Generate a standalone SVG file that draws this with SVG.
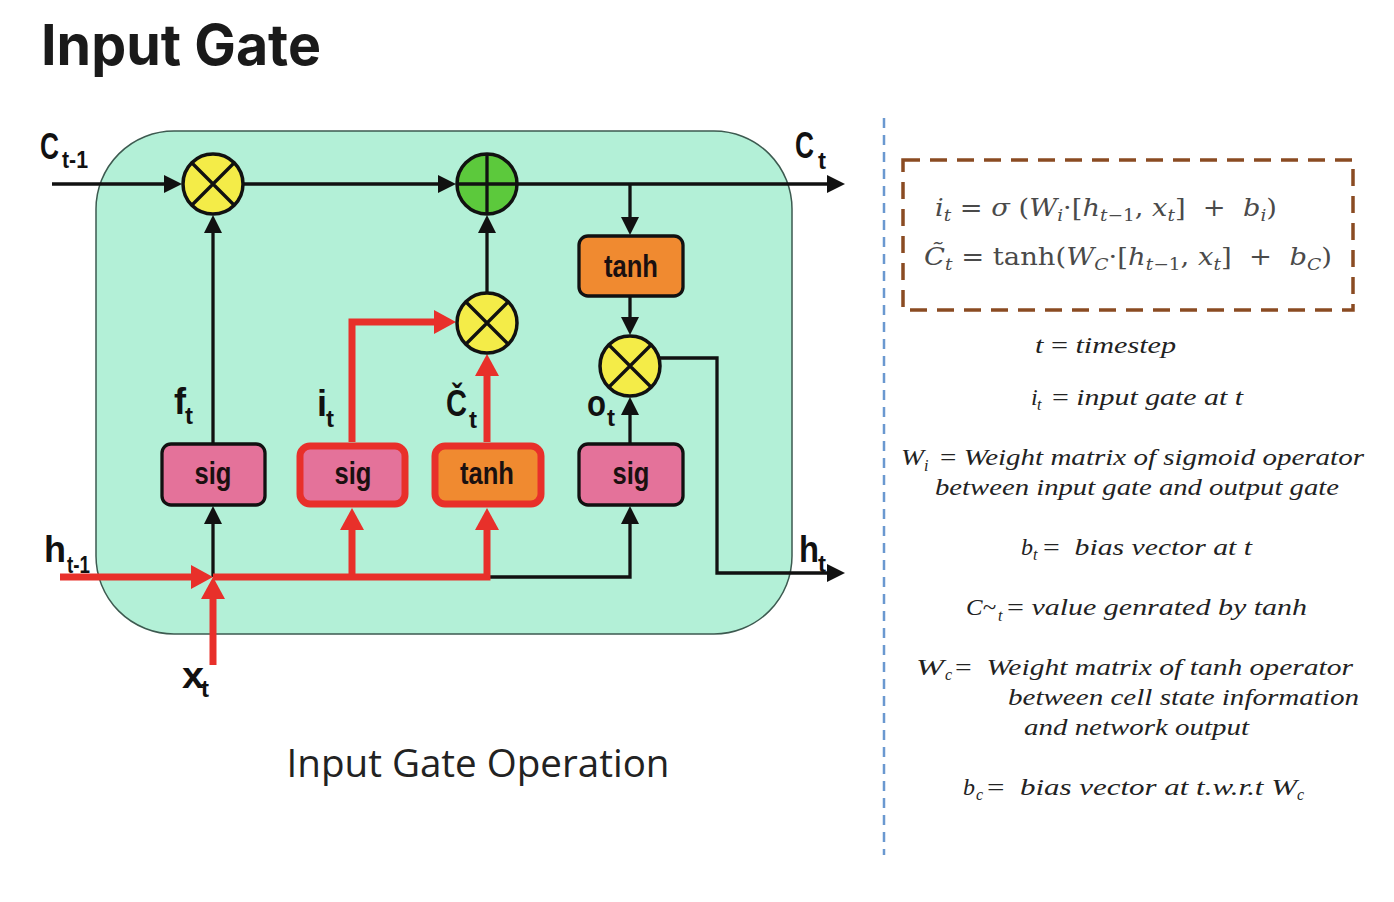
<svg xmlns="http://www.w3.org/2000/svg" width="1394" height="902" viewBox="0 0 1394 902">
<style>
.bk{fill:none;stroke:#111;stroke-width:3.3;stroke-linejoin:miter}
.rd{fill:none;stroke:#e8302a;stroke-width:7;stroke-linejoin:miter}
.mul{fill:#f4ec48;stroke:#111;stroke-width:3.5}
.add{fill:#5cc93c;stroke:#111;stroke-width:3.5}
.cr{stroke:#111;stroke-width:3.3}
.pink{fill:#e4729a;stroke:#111;stroke-width:3.3}
.orng{fill:#f08a30;stroke:#111;stroke-width:3.3}
.pinkR{fill:#e4729a;stroke:#e8302a;stroke-width:7}
.orngR{fill:#f08a30;stroke:#e8302a;stroke-width:7}
.bx{font-family:"Liberation Sans Narrow","Liberation Sans",Arial,sans-serif;font-weight:bold;font-size:31px;fill:#1a1010;text-anchor:middle}
.lb{font-family:"Liberation Sans Narrow","Liberation Sans",Arial,sans-serif;font-weight:bold;font-size:36px;fill:#111}
.ls{font-family:"Liberation Sans Narrow","Liberation Sans",Arial,sans-serif;font-weight:bold;font-size:23px;fill:#111}
.math{font-family:"DejaVu Serif","Liberation Serif",serif;font-size:25px;fill:#4a4a4a;white-space:pre}
.msub{font-size:17px}
.df{font-family:"Liberation Serif","DejaVu Serif",serif;font-style:italic;font-size:24px;fill:#222;white-space:pre}
.dsub{font-family:"Liberation Serif","DejaVu Serif",serif;font-style:italic;font-size:16px;fill:#222}
.up{font-style:normal}
</style>
<defs>
<marker id="ab" viewBox="0 0 18 18" markerWidth="18" markerHeight="18" refX="13" refY="9" orient="auto" markerUnits="userSpaceOnUse"><path d="M0,0 L18,9 L0,18 z" fill="#111"/></marker>
<marker id="ar" viewBox="0 0 22 24" markerWidth="22" markerHeight="24" refX="12" refY="12" orient="auto" markerUnits="userSpaceOnUse"><path d="M0,0 L22,12 L0,24 z" fill="#e8302a"/></marker>
</defs>
<rect width="1394" height="902" fill="#fff"/>
<text x="41" y="65" font-family="Inter,'Liberation Sans',sans-serif" font-weight="bold" font-size="56" fill="#1a1a1a" textLength="280" lengthAdjust="spacingAndGlyphs">Input Gate</text>

<g id="cell">
<rect x="96" y="131" width="696" height="503" rx="78" ry="78" fill="#b3f0d7" stroke="#3d5a50" stroke-width="1.5"/>
</g>

<g id="connectors">
<path class="bk" d="M52,184 L177,184" marker-end="url(#ab)"/>
<path class="bk" d="M244,184 L451,184" marker-end="url(#ab)"/>
<path class="bk" d="M518,184 L840,184" marker-end="url(#ab)"/>
<path class="bk" d="M630,184 L630,230" marker-end="url(#ab)"/>
<path class="bk" d="M630,297 L630,330" marker-end="url(#ab)"/>
<path class="bk" d="M630,443 L630,402" marker-end="url(#ab)"/>
<path class="bk" d="M489,577 L630,577 L630,511" marker-end="url(#ab)"/>
<path class="bk" d="M660,358 L717,358 L717,573 L840,573" marker-end="url(#ab)"/>
<path class="bk" d="M213,577 L213,511" marker-end="url(#ab)"/>
<path class="bk" d="M213,443 L213,220" marker-end="url(#ab)"/>
<path class="bk" d="M487,292 L487,220" marker-end="url(#ab)"/>
<path class="rd" d="M60,577 L203,577" marker-end="url(#ar)"/>
<path class="rd" d="M213,577 L487,577 L487,518" marker-end="url(#ar)"/>
<path class="rd" d="M352,577 L352,518" marker-end="url(#ar)"/>
<path class="rd" d="M213,665 L213,587" marker-end="url(#ar)"/>
<path class="rd" d="M352,442 L352,322 L446,322" marker-end="url(#ar)"/>
<path class="rd" d="M487,442 L487,364" marker-end="url(#ar)"/>
</g>

<g id="mul_forget">
<circle class="mul" cx="213" cy="184" r="30"/>
<path class="cr" d="M192,163 L234,205 M234,163 L192,205"/>
</g>
<g id="add_cell">
<circle class="add" cx="487" cy="184" r="30"/>
<path class="cr" d="M487,154 L487,214 M457,184 L517,184"/>
</g>
<g id="mul_input">
<circle class="mul" cx="487" cy="323" r="30"/>
<path class="cr" d="M466,302 L508,344 M508,302 L466,344"/>
</g>
<g id="mul_output">
<circle class="mul" cx="630" cy="366" r="30"/>
<path class="cr" d="M609,345 L651,387 M651,345 L609,387"/>
</g>

<g id="tanh_out">
<rect class="orng" x="579" y="236" width="104" height="60" rx="9"/>
<text class="bx" x="631" y="277" textLength="54" lengthAdjust="spacingAndGlyphs">tanh</text>
</g>
<g id="sig_forget">
<rect class="pink" x="162" y="444" width="103" height="61" rx="9"/>
<text class="bx" x="213" y="484" textLength="37" lengthAdjust="spacingAndGlyphs">sig</text>
</g>
<g id="sig_input">
<rect class="pinkR" x="300" y="446" width="105" height="58" rx="10"/>
<text class="bx" x="353" y="484" textLength="37" lengthAdjust="spacingAndGlyphs">sig</text>
</g>
<g id="tanh_input">
<rect class="orngR" x="435" y="446" width="106" height="58" rx="10"/>
<text class="bx" x="487" y="484" textLength="54" lengthAdjust="spacingAndGlyphs">tanh</text>
</g>
<g id="sig_output">
<rect class="pink" x="579" y="444" width="104" height="61" rx="9"/>
<text class="bx" x="631" y="484" textLength="37" lengthAdjust="spacingAndGlyphs">sig</text>
</g>

<g id="labels">
<text class="lb" x="40" y="159" textLength="19" lengthAdjust="spacingAndGlyphs">C</text>
<text class="ls" x="62" y="168" textLength="26" lengthAdjust="spacingAndGlyphs">t-1</text>
<text class="lb" x="795" y="158" textLength="19" lengthAdjust="spacingAndGlyphs">C</text>
<text class="ls" x="818" y="169" textLength="8" lengthAdjust="spacingAndGlyphs">t</text>
<text class="lb" x="174" y="414">f</text>
<text class="ls" x="185" y="424" textLength="8" lengthAdjust="spacingAndGlyphs">t</text>
<text class="lb" x="317" y="416">i</text>
<text class="ls" x="326" y="427" textLength="8" lengthAdjust="spacingAndGlyphs">t</text>
<text class="lb" x="446" y="416" textLength="21" lengthAdjust="spacingAndGlyphs">Č</text>
<text class="ls" x="469" y="428" textLength="8" lengthAdjust="spacingAndGlyphs">t</text>
<text class="lb" x="587" y="416" textLength="19" lengthAdjust="spacingAndGlyphs">o</text>
<text class="ls" x="607" y="426" textLength="8" lengthAdjust="spacingAndGlyphs">t</text>
<text class="lb" x="44" y="562" textLength="22" lengthAdjust="spacingAndGlyphs">h</text>
<text class="ls" x="67" y="573" textLength="23" lengthAdjust="spacingAndGlyphs">t-1</text>
<text class="lb" x="799" y="562" textLength="20" lengthAdjust="spacingAndGlyphs">h</text>
<text class="ls" x="818" y="572" textLength="8" lengthAdjust="spacingAndGlyphs">t</text>
<text class="lb" x="182" y="688" textLength="22" lengthAdjust="spacingAndGlyphs">x</text>
<text class="ls" x="201" y="697" textLength="8" lengthAdjust="spacingAndGlyphs">t</text>
</g>

<text x="478" y="777" text-anchor="middle" font-family="'Open Sans','Liberation Sans',sans-serif" font-size="38" fill="#222" textLength="383" lengthAdjust="spacingAndGlyphs">Input Gate Operation</text>

<line x1="884" y1="118" x2="884" y2="855" stroke="#6a98d0" stroke-width="2.5" stroke-dasharray="10 7"/>

<g id="formula_box">
<rect x="903" y="160" width="450" height="150" fill="none" stroke="#8a4b22" stroke-width="3.5" stroke-dasharray="17 10"/>
<text class="math" x="935" y="216" textLength="342" lengthAdjust="spacingAndGlyphs"><tspan font-style="italic">i</tspan><tspan class="msub" font-style="italic" dy="5">t</tspan><tspan dy="-5"> = </tspan><tspan font-style="italic">σ</tspan><tspan> (</tspan><tspan font-style="italic">W</tspan><tspan class="msub" font-style="italic" dy="5">i</tspan><tspan dy="-5">·[</tspan><tspan font-style="italic">h</tspan><tspan class="msub" dy="5"><tspan font-style="italic">t</tspan>−1</tspan><tspan dy="-5">, </tspan><tspan font-style="italic">x</tspan><tspan class="msub" font-style="italic" dy="5">t</tspan><tspan dy="-5">]  +  </tspan><tspan font-style="italic">b</tspan><tspan class="msub" font-style="italic" dy="5">i</tspan><tspan dy="-5">)</tspan></text>
<text class="math" x="924" y="265" textLength="408" lengthAdjust="spacingAndGlyphs"><tspan font-style="italic">C&#x303;</tspan><tspan class="msub" font-style="italic" dy="5">t</tspan><tspan dy="-5"> = tanh(</tspan><tspan font-style="italic">W</tspan><tspan class="msub" font-style="italic" dy="5">C</tspan><tspan dy="-5">·[</tspan><tspan font-style="italic">h</tspan><tspan class="msub" dy="5"><tspan font-style="italic">t</tspan>−1</tspan><tspan dy="-5">, </tspan><tspan font-style="italic">x</tspan><tspan class="msub" font-style="italic" dy="5">t</tspan><tspan dy="-5">]  +  </tspan><tspan font-style="italic">b</tspan><tspan class="msub" font-style="italic" dy="5">C</tspan><tspan dy="-5">)</tspan></text>
</g>

<g id="definitions">
<text class="df" x="1035" y="353" textLength="141" lengthAdjust="spacingAndGlyphs">t <tspan class="up">=</tspan> timestep</text>
<text class="df" x="1031" y="405">i</text><text class="dsub" x="1037" y="410">t</text>
<text class="df" x="1052" y="405" textLength="191" lengthAdjust="spacingAndGlyphs"><tspan class="up">=</tspan> input gate at t</text>
<text class="df" x="901" y="465" textLength="23" lengthAdjust="spacingAndGlyphs">W</text><text class="dsub" x="924" y="471">i</text>
<text class="df" x="940" y="465" textLength="424" lengthAdjust="spacingAndGlyphs"><tspan class="up">=</tspan> Weight matrix of sigmoid operator</text>
<text class="df" x="935" y="495" textLength="404" lengthAdjust="spacingAndGlyphs">between input gate and output gate</text>
<text class="df" x="1021" y="555">b</text><text class="dsub" x="1033" y="560">t</text>
<text class="df" x="1043" y="555" textLength="209" lengthAdjust="spacingAndGlyphs"><tspan class="up">=</tspan>  bias vector at t</text>
<text class="df" x="966" y="615" textLength="30" lengthAdjust="spacingAndGlyphs">C~</text><text class="dsub" x="998" y="621">t</text>
<text class="df" x="1007" y="615" textLength="300" lengthAdjust="spacingAndGlyphs"><tspan class="up">=</tspan> value genrated by tanh</text>
<text class="df" x="916" y="675" textLength="28" lengthAdjust="spacingAndGlyphs">W</text><text class="dsub" x="945" y="680">c</text>
<text class="df" x="955" y="675" textLength="398" lengthAdjust="spacingAndGlyphs"><tspan class="up">=</tspan>  Weight matrix of tanh operator</text>
<text class="df" x="1008" y="705" textLength="351" lengthAdjust="spacingAndGlyphs">between cell state information</text>
<text class="df" x="1024" y="735" textLength="225" lengthAdjust="spacingAndGlyphs">and network output</text>
<text class="df" x="963" y="795">b</text><text class="dsub" x="976" y="800">c</text>
<text class="df" x="987" y="795" textLength="310" lengthAdjust="spacingAndGlyphs"><tspan class="up">=</tspan>  bias vector at t.w.r.t W</text><text class="dsub" x="1297" y="800">c</text>
</g>
</svg>
